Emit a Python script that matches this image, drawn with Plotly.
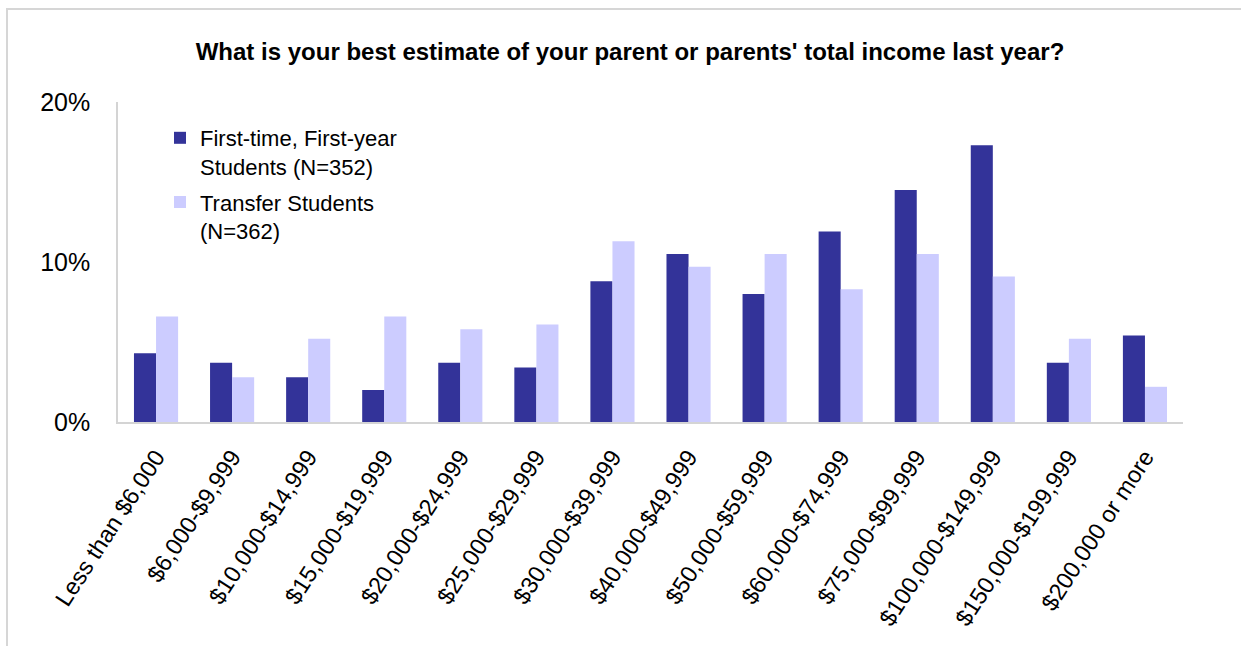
import plotly.graph_objects as go

categories = ["Less than $6,000", "$6,000-$9,999", "$10,000-$14,999", "$15,000-$19,999",
              "$20,000-$24,999", "$25,000-$29,999", "$30,000-$39,999", "$40,000-$49,999",
              "$50,000-$59,999", "$60,000-$74,999", "$75,000-$99,999", "$100,000-$149,999",
              "$150,000-$199,999", "$200,000 or more"]
first_year = [4.3, 3.7, 2.8, 2.0, 3.7, 3.4, 8.8, 10.5, 8.0, 11.9, 14.5, 17.3, 3.7, 5.4]
transfer = [6.6, 2.8, 5.2, 6.6, 5.8, 6.1, 11.3, 9.7, 10.5, 8.3, 10.5, 9.1, 5.2, 2.2]
series_names = ["First-time, First-year<br>Students (N=352)", "Transfer Students<br>(N=362)"]
y_ticks = [0, 10, 20]
y_tick_text = ["0%", "10%", "20%"]

FONT = "Arial, 'Liberation Sans', sans-serif"

fig = go.Figure()
fig.add_trace(go.Bar(x=categories, y=first_year, name=series_names[0],
                     marker=dict(color="#333399", line=dict(width=0)), legendgroup="a"))
fig.add_trace(go.Bar(x=categories, y=transfer, name=series_names[1],
                     marker=dict(color="#CCCCFF", line=dict(width=0)), legendgroup="b"))

L, R, T, B = 118, 58, 102, 224
W, H = 1241, 646
pw, ph = W - L - R, H - T - B

def px_x(p):
    return (p - L) / pw

def px_y(p):
    return (H - B - p) / ph

fig.update_layout(
    width=W, height=H,
    margin=dict(l=L, r=R, t=T, b=B, pad=0),
    paper_bgcolor="white", plot_bgcolor="white",
    barmode="group", bargap=0.42, bargroupgap=0,
    font=dict(family=FONT, color="black", size=22),
    title=dict(text="<b>What is your best estimate of your parent or parents' total income last year?</b>",
               x=630 / W, xref="container", xanchor="center",
               y=1 - 52 / H, yref="container", yanchor="middle",
               font=dict(size=24, family=FONT, color="black")),
    legend=dict(x=px_x(160), y=px_y(117), xanchor="left", yanchor="top",
                bgcolor="rgba(0,0,0,0)", font=dict(size=22, family=FONT, color="black"),
                valign="top", tracegroupgap=4, traceorder="grouped"),
    xaxis=dict(showline=True, linecolor="#d4d4d4", linewidth=2, ticks="",
               showgrid=False, tickangle=-57, ticklabelstandoff=10,
               tickfont=dict(size=23.5, family=FONT, color="black")),
    yaxis=dict(range=[0, 20], tickvals=y_ticks, ticktext=y_tick_text,
               showline=True, linecolor="#d4d4d4", linewidth=1.5, ticks="",
               showgrid=False, zeroline=False, ticklabelstandoff=21,
               tickfont=dict(size=25, family=FONT, color="black")),
    shapes=[dict(type="rect", xref="paper", yref="paper",
                 x0=px_x(7), x1=px_x(1300), y0=px_y(700), y1=px_y(9),
                 line=dict(color="#d6d6d6", width=2), fillcolor="rgba(0,0,0,0)", layer="below")],
)

fig.write_html("out.html")
